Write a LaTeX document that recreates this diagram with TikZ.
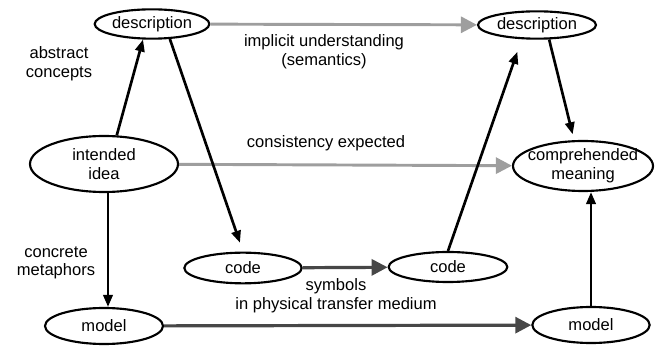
\documentclass[tikz,border=0pt]{standalone}
\usepackage{fontspec}
\setmainfont{Liberation Sans}
\usetikzlibrary{arrows.meta,shapes.geometric}
\definecolor{Stipple}{gray}{0.62}
\definecolor{Hatch}{gray}{0.28}

\begin{document}
\begin{tikzpicture}[x=.75pt,y=-.75pt,
    font=\fontsize{12.4}{14}\selectfont,
    oval/.style={ellipse,draw,line width=1.6pt,inner sep=-20pt,align=center},
    link/.style={line width=2pt,-{Triangle[length=9pt,width=7pt]}},
    sense/.style={line width=2.2pt,draw=Stipple,-{Triangle[length=12pt,width=12pt,fill=Stipple]}},
    signal/.style={line width=2.4pt,draw=Hatch,-{Triangle[length=12pt,width=12pt,fill=Hatch]}}]
    \useasboundingbox (0,0) rectangle (656,348);
    % ellipses
    \node[oval,minimum width=86pt,minimum height=22pt] (descL) at (152,24) {description};
    \node[oval,minimum width=88.5pt,minimum height=20.5pt] (descR) at (537,25) {description};
    \node[oval,minimum width=111pt,minimum height=42pt] (idea) at (104,164) {intended\\idea};
    \node[oval,minimum width=105pt,minimum height=37.5pt] (mean) at (583,166) {comprehended\\meaning};
    \node[oval,minimum width=88pt,minimum height=23pt] (codeL) at (243,268) {code};
    \node[oval,minimum width=89pt,minimum height=22.5pt] (codeR) at (448,267) {code};
    \node[oval,minimum width=88.5pt,minimum height=27pt] (modelL) at (104,326) {model};
    \node[oval,minimum width=88pt,minimum height=27pt] (modelR) at (591,325) {model};
    % texts
    \node[align=center] (abstr) at (59,64) {abstract\\concepts};
    \node[align=center] (implicit) at (324,52) {implicit understanding\\(semantics)};
    \node (consist) at (326,143) {consistency expected};
    \node[align=center] (concrete) at (56,263) {concrete\\metaphors};
    \node[align=center] (symbols) at (336,296) {symbols\\in physical transfer medium};
    % grey transfer arrows
    \draw[sense] (descL) -- (descR);
    \draw[sense] (idea) -- (mean);
    \draw[signal] (codeL) -- (codeR);
    \draw[signal] (modelL) -- (modelR);
    % black arrows
    \draw[link] (idea.66) -- (descL.240);
    \draw[link,shorten >=7pt] (descL.320) -- (codeL.north);
    \draw[link] ([xshift=3pt]idea.south) -- ([xshift=3pt]modelL.north);
    \draw[link,shorten >=10pt] (codeR.north) -- (descR.223);
    \draw[link,shorten >=4.5pt] (descR.310) -- (mean.109);
    \draw[link] (modelR.north) -- (modelR.north |- mean.south);
  \end{tikzpicture}
\end{document}
